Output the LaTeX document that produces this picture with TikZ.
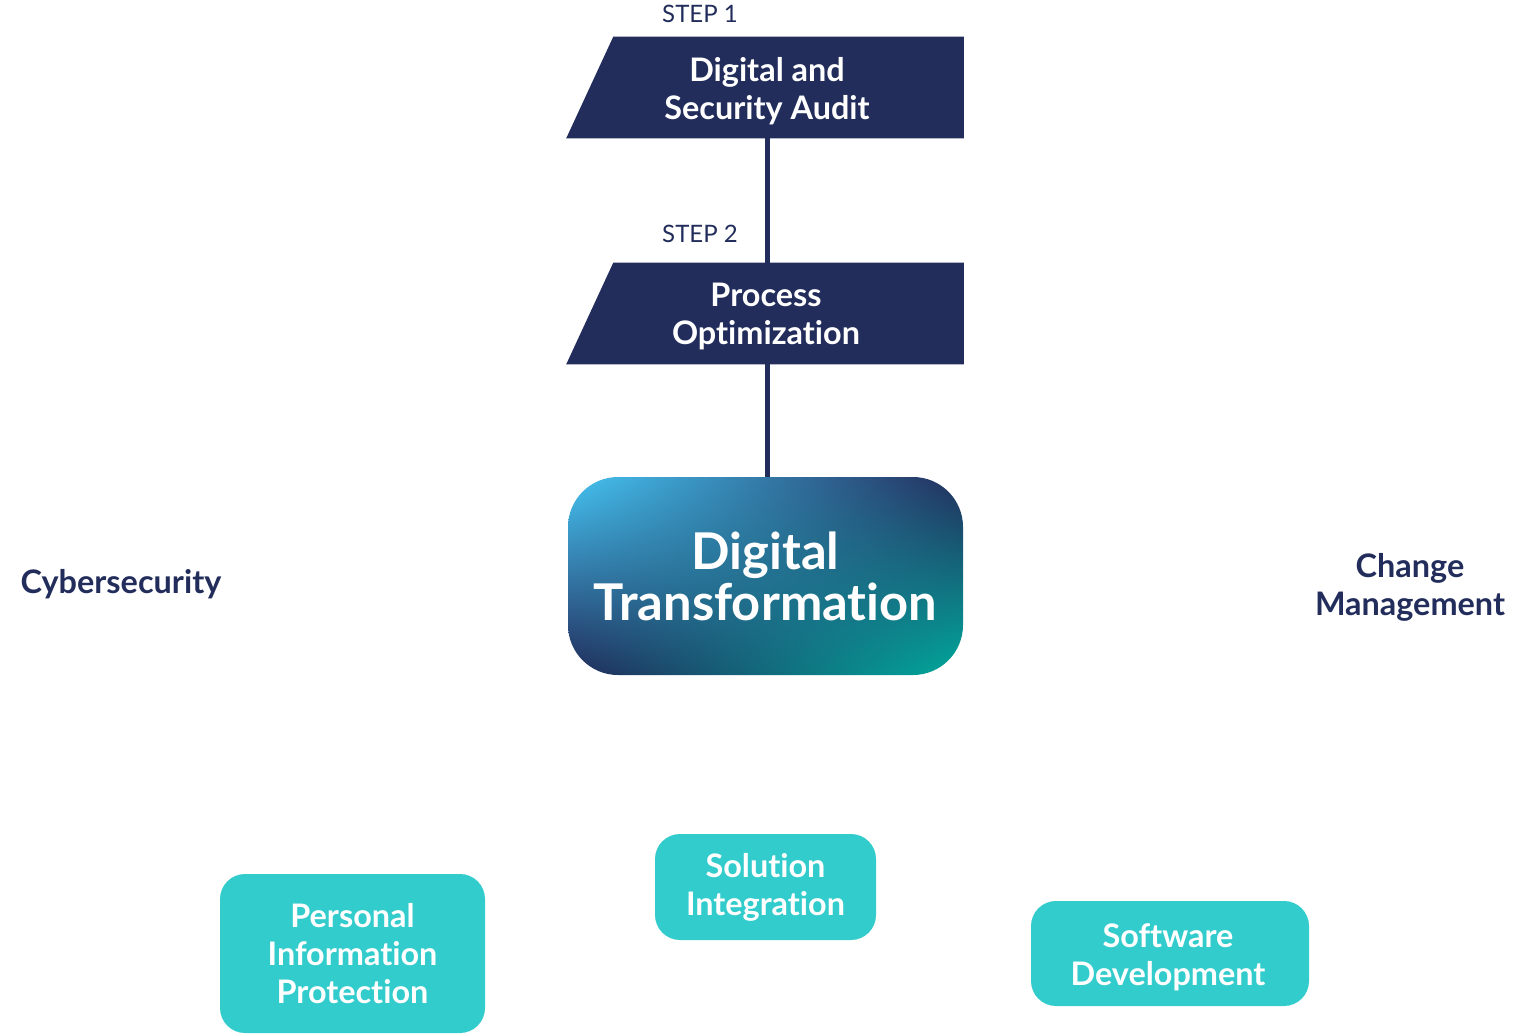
\documentclass[tikz,border=0pt]{standalone}
\usepackage{fontspec}
\setmainfont[RawFeature={-liga}]{Lato}
\usetikzlibrary{backgrounds,shadings}
\definecolor{navy}{HTML}{222D5B}
\definecolor{tealbox}{HTML}{33CCCC}
\definecolor{gUL}{HTML}{45C4F2}
\definecolor{gUR}{HTML}{232D5C}
\definecolor{gLL}{HTML}{222A5A}
\definecolor{gLR}{HTML}{00AA9C}
\tikzset{
  boxtext/.style={font=\fontsize{24.3}{28.5}\selectfont\bfseries, align=center, text=white},
  stepbox/.style={minimum width=297.75pt, minimum height=75.75pt, inner sep=0pt},
  steplabel/.style={font=\fontsize{18}{20}\selectfont, text=navy, inner sep=0pt},
  sidelabel/.style={font=\fontsize{24.3}{28.5}\selectfont\bfseries, align=center, text=navy, inner sep=0pt},
  tealnode/.style={boxtext, fill=tealbox, rounded corners=18.75pt, inner sep=0pt},
  conn/.style={draw=navy, line width=3.75pt}
}
\begin{document}
\begin{tikzpicture}[x=0.75pt,y=-0.75pt]
\useasboundingbox (0,0) rectangle (1520,1034);
% step boxes
\node[stepbox] (b1) at (765,87.5) {};
\node[stepbox] (b2) at (765,313.5) {};
\begin{scope}[on background layer]
  \fill[navy] ([xshift=35.25pt]b1.north west) -- (b1.north east) -- (b1.south east) -- (b1.south west) -- cycle;
  \fill[navy] ([xshift=35.25pt]b2.north west) -- (b2.north east) -- (b2.south east) -- (b2.south west) -- cycle;
\end{scope}
\node[boxtext] (b1t) at (767,91) {Digital and\\Security Audit};
\node[boxtext] (b2t) at (766,317) {Process\\Optimization};
\node[steplabel] (s1) at (700,14) {STEP 1};
\node[steplabel] (s2) at (700,234) {STEP 2};
% central node
\node[rounded corners=37.5pt, minimum width=296.25pt, minimum height=148.5pt, inner sep=0pt,
      upper left=gUL, upper right=gUR, lower left=gLL, lower right=gLR,
      font=\fontsize{38}{38.25}\selectfont\bfseries, align=center, text=white] (dt) at (765.5,576) {Digital\\Transformation};
% connectors
\draw[conn] (b1.south -| 767,0) -- (b2.north -| 767,0);
\draw[conn] (b2.south -| 767,0) -- (dt.north -| 767,0);
% side labels
\node[sidelabel] (cyber) at (121,584) {Cybersecurity};
\node[sidelabel] (change) at (1410,587) {Change\\Management};
% teal boxes
\node[tealnode, minimum width=198.75pt, minimum height=119.25pt] (pip) at (352.5,953.5) {Personal\\Information\\Protection};
\node[tealnode, minimum width=165.75pt, minimum height=79.5pt] (si) at (765.5,887) {Solution\\Integration};
\node[tealnode, minimum width=208.5pt, minimum height=78.75pt] (sd) at (1170,953.5) {};
\node[boxtext] (sdt) at (1168,957.5) {Software\\Development};
\end{tikzpicture}
\end{document}
